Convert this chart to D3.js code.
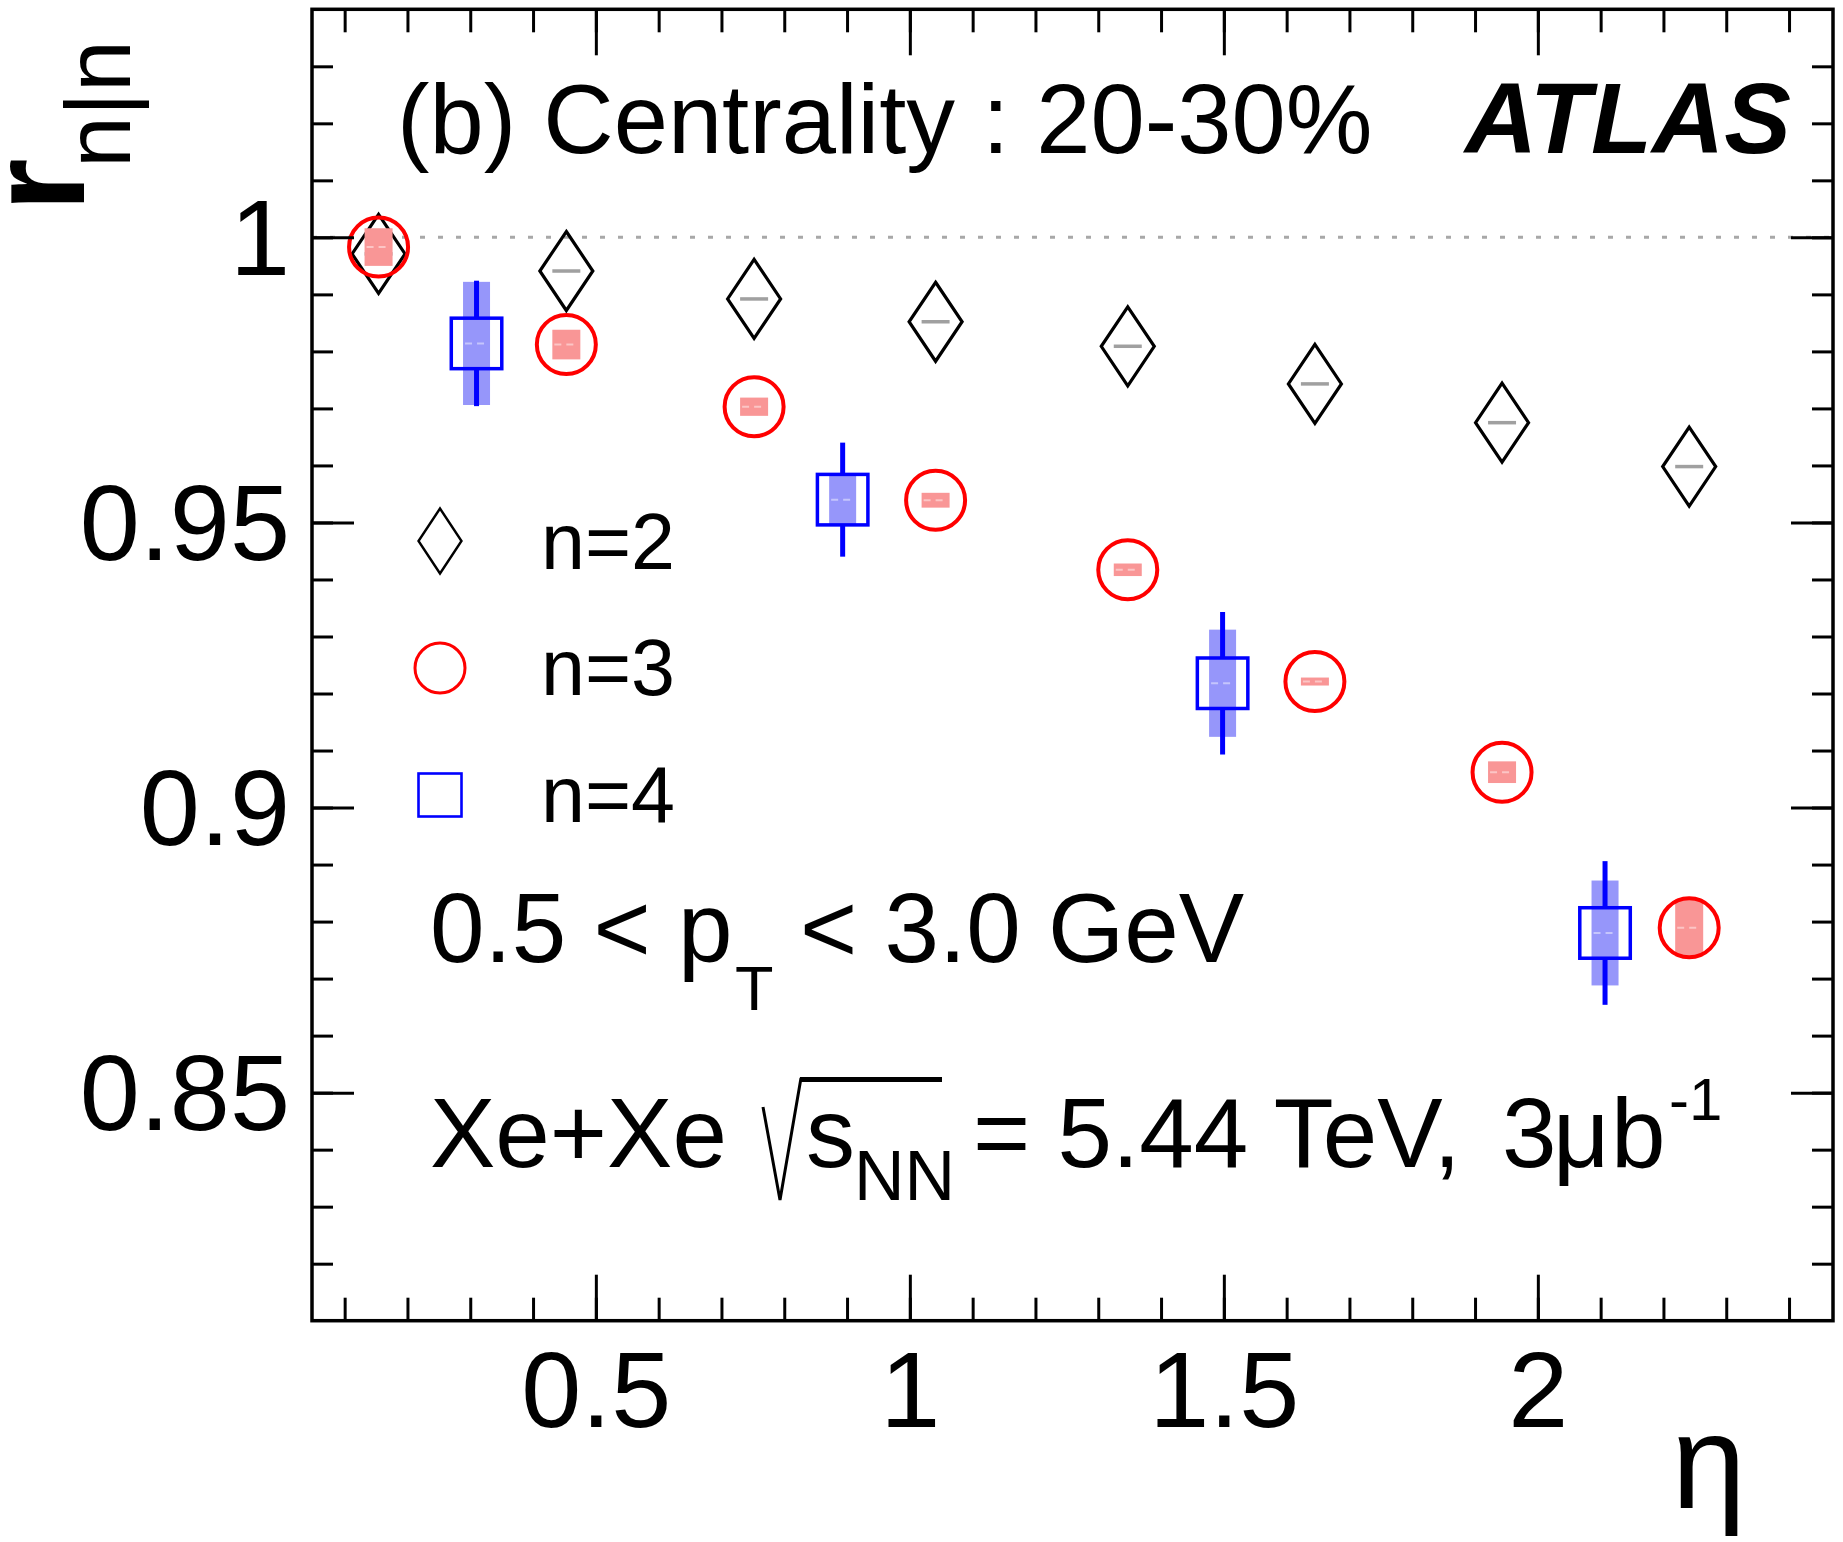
<!DOCTYPE html>
<html>
<head>
<meta charset="utf-8">
<script src="https://cdn.jsdelivr.net/npm/d3@7"></script>
<style>
  html, body { margin: 0; padding: 0; background: #fff; }
  svg { display: block; }
  text { font-family: "Liberation Sans", Arial, Helvetica, sans-serif; fill: #000; }
</style>
</head>
<body>
<div id="chart"></div>
<script>
// ---- data: r_n|n versus eta, Xe+Xe 20-30% ----
const eta2 = [0.154, 0.453, 0.752, 1.041, 1.347, 1.645, 1.943, 2.241];
const r2   = [0.9971, 0.9941, 0.9892, 0.9852, 0.9809, 0.9743, 0.9675, 0.9598];
const sys2 = [0.0002, 0.0002, 0.0002, 0.0002, 0.0002, 0.0002, 0.0002, 0.0002];

const eta3 = [0.154, 0.453, 0.752, 1.041, 1.347, 1.645, 1.943, 2.241];
const r3   = [0.9983, 0.9812, 0.9703, 0.9539, 0.9417, 0.9221, 0.9062, 0.8789];
const sys3 = [0.0033, 0.0026, 0.0016, 0.0013, 0.0011, 0.0007, 0.0019, 0.0050];

const eta4  = [0.310, 0.893, 1.498, 2.107];
const r4    = [0.9814, 0.9540, 0.9218, 0.8780];
const stat4 = [0.0110, 0.0100, 0.0125, 0.0126];
const sys4  = [0.0108, 0.0046, 0.0094, 0.0092];

const xMajorTicks = [0.5, 1, 1.5, 2];
const xMinorTicks = d3.range(1, 25).map(i => i / 10);
const yMajorTicks = [0.85, 0.9, 0.95, 1];
const yMinorTicks = d3.range(82, 104).map(i => i / 100);

const legendLabels = ["n=2", "n=3", "n=4"];

// ---- layout ----
const W = 1843, H = 1542;
const L = 312, R = 1833, T = 9.3, B = 1320.7;

const x = d3.scaleLinear().domain([0.048, 2.47]).range([L, R]);
const y = d3.scaleLinear().domain([0.81, 1.04]).range([B, T]);

const svg = d3.select("#chart").append("svg")
  .attr("width", W).attr("height", H)
  .attr("viewBox", `0 0 ${W} ${H}`);

const RED = "#ff0000", BLUE = "#0000ff";
const PINK = "rgb(249,150,150)", LBLUE = "rgb(150,150,250)";

// reference line at unity
svg.append("line")
  .attr("x1", L).attr("x2", R)
  .attr("y1", y(1)).attr("y2", y(1))
  .attr("stroke", "#a8a8a8").attr("stroke-width", 3)
  .attr("stroke-dasharray", "5,13");

const plot = svg.append("g");

// helper: systematic band (box) with a faint centre line
function sysBoxes(g, xs, ys, errs, fill, halfW, minH) {
  xs.forEach((xv, i) => {
    const cx = x(xv);
    const top = y(ys[i] + errs[i]), bot = y(ys[i] - errs[i]);
    let h = bot - top, yy = top;
    if (h < minH) { yy = y(ys[i]) - minH / 2; h = minH; }
    g.append("rect")
      .attr("x", cx - halfW).attr("y", yy)
      .attr("width", 2 * halfW).attr("height", h)
      .attr("fill", fill);
    if (minH < h) {
      g.append("line")
        .attr("x1", cx - halfW + 2).attr("x2", cx + halfW - 2)
        .attr("y1", y(ys[i])).attr("y2", y(ys[i]))
        .attr("stroke", "rgba(255,255,255,0.45)").attr("stroke-width", 2)
        .attr("stroke-dasharray", "7,5");
    }
  });
}

// n = 2 : open diamonds
const g2 = plot.append("g");
sysBoxes(g2, eta2, r2, sys2, "#a0a0a0", 14, 3.5);
const diamond = (hw, hh) => `M0,${-hh}L${hw},0L0,${hh}L${-hw},0Z`;
g2.selectAll("path.d2").data(eta2).join("path")
  .attr("d", diamond(26.5, 39.5))
  .attr("transform", (d, i) => `translate(${x(d)},${y(r2[i])})`)
  .attr("fill", "none").attr("stroke", "#000").attr("stroke-width", 3.2)
  .attr("stroke-linejoin", "miter");

// n = 3 : open circles
const g3 = plot.append("g");
sysBoxes(g3, eta3, r3, sys3, PINK, 14, 0);
g3.selectAll("circle").data(eta3).join("circle")
  .attr("cx", d => x(d)).attr("cy", (d, i) => y(r3[i]))
  .attr("r", 29.5)
  .attr("fill", "none").attr("stroke", RED).attr("stroke-width", 4);

// n = 4 : open squares with statistical bars
const g4 = plot.append("g");
sysBoxes(g4, eta4, r4, sys4, LBLUE, 13.5, 0);
const sq = 50.5;
eta4.forEach((d, i) => {
  const cx = x(d), cy = y(r4[i]);
  const hi = y(r4[i] + stat4[i]), lo = y(r4[i] - stat4[i]);
  if (hi < cy - sq / 2) {
    g4.append("line").attr("x1", cx).attr("x2", cx)
      .attr("y1", hi).attr("y2", cy - sq / 2)
      .attr("stroke", BLUE).attr("stroke-width", 5);
  }
  if (lo > cy + sq / 2) {
    g4.append("line").attr("x1", cx).attr("x2", cx)
      .attr("y1", cy + sq / 2).attr("y2", lo)
      .attr("stroke", BLUE).attr("stroke-width", 5);
  }
});
g4.selectAll("rect.sq").data(eta4).join("rect")
  .attr("class", "sq")
  .attr("x", d => x(d) - sq / 2).attr("y", (d, i) => y(r4[i]) - sq / 2)
  .attr("width", sq).attr("height", sq)
  .attr("fill", "none").attr("stroke", BLUE).attr("stroke-width", 3.5);

// ---- axes (ROOT style: inward ticks on all four sides) ----
const axes = svg.append("g").attr("class", "axes");
function styleAxis(sel) {
  sel.select(".domain").remove();
  sel.selectAll(".tick line").attr("stroke", "#000").attr("stroke-width", 3);
}

// bottom
axes.append("g").attr("transform", `translate(0,${B})`)
  .call(d3.axisBottom(x).tickValues(xMinorTicks).tickSize(-23).tickFormat(""))
  .call(styleAxis);
const xb = axes.append("g").attr("transform", `translate(0,${B})`)
  .call(d3.axisBottom(x).tickValues(xMajorTicks).tickSize(-46).tickFormat(d3.format("")))
  .call(styleAxis);
xb.selectAll(".tick text")
  .attr("y", 106).attr("dy", 0)
  .attr("font-size", 108).attr("fill", "#000")
  .style("font-family", '"Liberation Sans", Arial, sans-serif');

// top
axes.append("g").attr("transform", `translate(0,${T})`)
  .call(d3.axisTop(x).tickValues(xMinorTicks).tickSize(-23).tickFormat(""))
  .call(styleAxis);
axes.append("g").attr("transform", `translate(0,${T})`)
  .call(d3.axisTop(x).tickValues(xMajorTicks).tickSize(-46).tickFormat(""))
  .call(styleAxis);

// left
axes.append("g").attr("transform", `translate(${L},0)`)
  .call(d3.axisLeft(y).tickValues(yMinorTicks).tickSize(-21).tickFormat(""))
  .call(styleAxis);
const yl = axes.append("g").attr("transform", `translate(${L},0)`)
  .call(d3.axisLeft(y).tickValues(yMajorTicks).tickSize(-42).tickFormat(d3.format("")))
  .call(styleAxis);
yl.selectAll(".tick text")
  .attr("x", -22).attr("dy", "0.345em")
  .attr("font-size", 108).attr("fill", "#000")
  .style("font-family", '"Liberation Sans", Arial, sans-serif');

// right
axes.append("g").attr("transform", `translate(${R},0)`)
  .call(d3.axisRight(y).tickValues(yMinorTicks).tickSize(-21).tickFormat(""))
  .call(styleAxis);
axes.append("g").attr("transform", `translate(${R},0)`)
  .call(d3.axisRight(y).tickValues(yMajorTicks).tickSize(-42).tickFormat(""))
  .call(styleAxis);

// frame
svg.append("rect")
  .attr("x", L).attr("y", T).attr("width", R - L).attr("height", B - T)
  .attr("fill", "none").attr("stroke", "#000").attr("stroke-width", 3.5);

// ---- axis titles ----
svg.append("text")
  .attr("transform", "translate(1746,1508)")
  .attr("text-anchor", "end").attr("font-size", 134)
  .text("η");

svg.append("text")
  .attr("transform", "translate(84,212) rotate(-90)")
  .attr("font-size", 138).attr("font-weight", "bold")
  .text("r");
svg.append("text")
  .attr("transform", "translate(130,168) rotate(-90)")
  .attr("font-size", 93)
  .text("n|n");

// ---- annotations ----
svg.append("text")
  .attr("x", 397).attr("y", 153).attr("font-size", 97.5)
  .text("(b) Centrality : 20-30%");
svg.append("text")
  .attr("x", 1465).attr("y", 153).attr("font-size", 100)
  .attr("font-weight", "bold").attr("font-style", "italic")
  .text("ATLAS");

// pT range
svg.append("text").attr("x", 430).attr("y", 962).attr("font-size", 98).text("0.5 < p");
svg.append("text").attr("x", 735).attr("y", 1010).attr("font-size", 63).text("T");
svg.append("text").attr("x", 800).attr("y", 962).attr("font-size", 98).text("< 3.0 GeV");

// collision system
svg.append("text").attr("x", 430).attr("y", 1167).attr("font-size", 98).text("Xe+Xe");
svg.append("path")
  .attr("d", "M763,1107 L780,1200 L801,1078")
  .attr("fill", "none").attr("stroke", "#000").attr("stroke-width", 3)
  .attr("stroke-linejoin", "miter");
svg.append("line")
  .attr("x1", 800).attr("x2", 942).attr("y1", 1079.5).attr("y2", 1079.5)
  .attr("stroke", "#000").attr("stroke-width", 5);
svg.append("text").attr("x", 806).attr("y", 1167).attr("font-size", 98).text("s");
svg.append("text").attr("x", 854).attr("y", 1200).attr("font-size", 70).text("NN");
const lumi = svg.append("text").attr("y", 1167).attr("font-size", 98);
lumi.append("tspan").attr("x", 973).text("= 5.44 TeV,");
lumi.append("tspan").attr("x", 1502).text("3");
lumi.append("tspan").attr("x", 1553).text("μ");
lumi.append("tspan").attr("x", 1611).text("b");
svg.append("text").attr("x", 1669).attr("y", 1120).attr("font-size", 60).text("-1");

// ---- legend ----
const leg = svg.append("g");
const legY = [541, 668, 795];
const legBase = [569, 695, 822];
leg.append("path").attr("d", diamond(21.5, 32.5))
  .attr("transform", `translate(440,${legY[0]})`)
  .attr("fill", "none").attr("stroke", "#000").attr("stroke-width", 2.4);
leg.append("circle").attr("cx", 440).attr("cy", legY[1]).attr("r", 25)
  .attr("fill", "none").attr("stroke", RED).attr("stroke-width", 3);
leg.append("rect").attr("x", 440 - 21.5).attr("y", legY[2] - 21.5)
  .attr("width", 43).attr("height", 43)
  .attr("fill", "none").attr("stroke", BLUE).attr("stroke-width", 2.6);
leg.selectAll("text").data(legendLabels).join("text")
  .attr("x", 541).attr("y", (d, i) => legBase[i])
  .attr("font-size", 79)
  .text(d => d);
</script>
</body>
</html>
